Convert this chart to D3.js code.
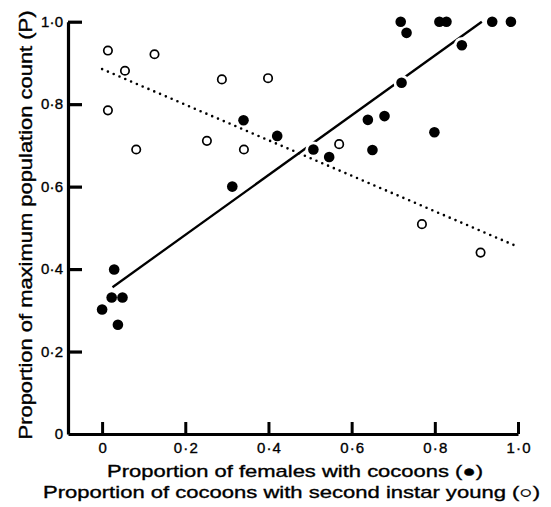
<!DOCTYPE html>
<html>
<head>
<meta charset="utf-8">
<script src="https://cdn.jsdelivr.net/npm/d3@7"></script>
<style>
  body { margin: 0; background: #fff; }
  svg { display: block; }
  text { font-family: "Liberation Sans", Arial, sans-serif; fill: #000; stroke: #000; stroke-width: 0.35px; }
</style>
</head>
<body>
<div id="chart"></div>
<script>
// filled dots: proportion of females with cocoons vs P
var femalesX = [0.0, 0.023, 0.029, 0.049, 0.038, 0.313, 0.340, 0.421, 0.508, 0.546, 0.639, 0.650, 0.679, 0.720, 0.718, 0.732, 0.799, 0.811, 0.828, 0.865, 0.938, 0.983];
var femalesP = [0.302, 0.331, 0.399, 0.331, 0.265, 0.600, 0.761, 0.723, 0.690, 0.672, 0.762, 0.689, 0.771, 0.852, 1.0, 0.973, 0.732, 1.0, 1.0, 0.943, 1.0, 1.0];
// open dots: proportion of cocoons with second instar young vs P
var cocoonsX = [0.014, 0.014, 0.055, 0.082, 0.126, 0.252, 0.288, 0.341, 0.399, 0.570, 0.769, 0.910];
var cocoonsP = [0.930, 0.785, 0.881, 0.690, 0.921, 0.711, 0.860, 0.690, 0.863, 0.703, 0.509, 0.440];
// fitted lines (end points)
var femalesFitX = [0.025, 0.913], femalesFitP = [0.356, 1.0];
var cocoonsFitX = [0.0, 0.993], cocoonsFitP = [0.885, 0.457];
var tickVals = [0, 0.2, 0.4, 0.6, 0.8, 1.0];

var W = 551, H = 507;
var svg = d3.select('#chart').append('svg').attr('width', W).attr('height', H);

var x = d3.scaleLinear().domain([-0.082, 1]).range([68, 518]);
var y = d3.scaleLinear().domain([0, 1]).range([434, 21.7]);

var fmt = function(d) { return d === 0 ? '0' : d3.format('.1f')(d).replace('.', '\u00b7'); };

// y axis
var gy = svg.append('g').attr('transform', 'translate(' + x(-0.082) + ',0)')
  .call(d3.axisLeft(y).tickValues(tickVals).tickFormat(fmt).tickSize(-14).tickSizeOuter(0).tickPadding(5));
gy.select('.domain').attr('stroke-width', 3.2);
gy.selectAll('.tick line').attr('stroke-width', 3.2);
gy.selectAll('.tick text').style('font-size', '15px')
  .attr('textLength', function(d) { return d === 0 ? null : 22; });
gy.selectAll('.tick').filter(function(d) { return d === 0; }).select('line').remove();

// x axis
var gx = svg.append('g').attr('transform', 'translate(0,' + y(0) + ')')
  .call(d3.axisBottom(x).tickValues(tickVals).tickFormat(fmt).tickSize(-12).tickSizeOuter(0).tickPadding(8));
gx.select('.domain').attr('stroke-width', 3.2);
gx.selectAll('.tick line').attr('stroke-width', 3);
gx.selectAll('.tick text').style('font-size', '15px')
  .attr('textLength', function(d) { return d === 0 ? null : 24; });

var line = d3.line().x(function(d) { return x(d[0]); }).y(function(d) { return y(d[1]); });

// solid fit line for females
svg.append('path')
  .datum(d3.zip(femalesFitX, femalesFitP))
  .attr('d', line).attr('fill', 'none').attr('stroke', '#000').attr('stroke-width', 2.3);

// white halos make the gaps in the solid line around dots
var females = d3.zip(femalesX, femalesP);
svg.append('g').selectAll('circle').data(females).join('circle')
  .attr('cx', function(d) { return x(d[0]); })
  .attr('cy', function(d) { return y(d[1]); })
  .attr('r', 8).attr('fill', '#fff');

// dotted fit line for cocoons
svg.append('path')
  .datum(d3.zip(cocoonsFitX, cocoonsFitP))
  .attr('d', line).attr('fill', 'none').attr('stroke', '#000')
  .attr('stroke-width', 2.6).attr('stroke-linecap', 'round').attr('stroke-dasharray', '0 6.3');

svg.append('g').selectAll('circle').data(d3.zip(cocoonsX, cocoonsP)).join('circle')
  .attr('cx', function(d) { return x(d[0]); })
  .attr('cy', function(d) { return y(d[1]); })
  .attr('r', 4.2).attr('fill', '#fff').attr('stroke', '#000').attr('stroke-width', 1.7);

svg.append('g').selectAll('circle').data(females).join('circle')
  .attr('cx', function(d) { return x(d[0]); })
  .attr('cy', function(d) { return y(d[1]); })
  .attr('r', 5.3).attr('fill', '#000');

// axis titles
svg.append('text')
  .attr('transform', 'translate(32,225) rotate(-90)')
  .attr('text-anchor', 'middle')
  .style('font-size', '18px')
  .attr('textLength', 429).attr('lengthAdjust', 'spacingAndGlyphs')
  .text('Proportion of maximum population count (P)');

svg.append('text')
  .attr('x', 295).attr('y', 477)
  .attr('text-anchor', 'middle')
  .style('font-size', '17px')
  .attr('textLength', 376).attr('lengthAdjust', 'spacingAndGlyphs')
  .text('Proportion of females with cocoons (\u25cf)');

svg.append('text')
  .attr('x', 291.5).attr('y', 498)
  .attr('text-anchor', 'middle')
  .style('font-size', '17px')
  .attr('textLength', 497).attr('lengthAdjust', 'spacingAndGlyphs')
  .text('Proportion of cocoons with second instar young (\u25cb)');
</script>
</body>
</html>
